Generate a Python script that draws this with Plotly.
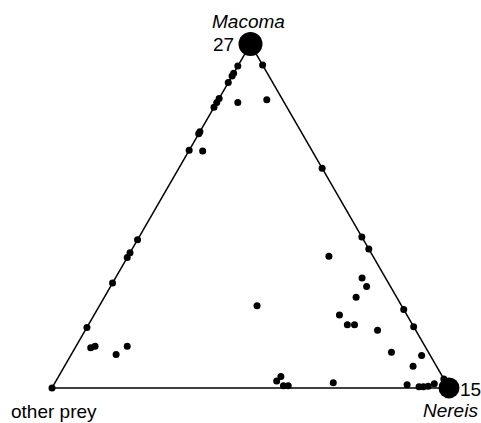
import plotly.graph_objects as go

# Proportions of prey types per individual (Macoma, other prey, Nereis)
macoma = [0.936, 0.915, 0.907, 0.888, 0.842, 0.830, 0.816, 0.745, 0.739, 0.691,
          0.431, 0.393, 0.379, 0.305, 0.176, 0.0,
          0.939, 0.639, 0.439, 0.404, 0.228, 0.178, 0.026,
          0.830, 0.838, 0.689, 0.117, 0.121, 0.097, 0.121, 0.239, 0.383, 0.320,
          0.295, 0.264, 0.212, 0.184, 0.184, 0.168, 0.104, 0.094, 0.063, 0.015,
          0.020, 0.033, 0.006, 0.006, 0.009, 0.003, 0.003, 0.005, 0.012]
other = [0.064, 0.085, 0.093, 0.112, 0.158, 0.170, 0.184, 0.255, 0.261, 0.309,
         0.569, 0.607, 0.621, 0.695, 0.824, 1.0,
         0.0, 0.0, 0.0, 0.0, 0.0, 0.0, 0.0,
         0.117, 0.040, 0.276, 0.844, 0.831, 0.790, 0.750, 0.364, 0.111, 0.059,
         0.060, 0.102, 0.170, 0.164, 0.146, 0.096, 0.093, 0.022, 0.059, 0.284,
         0.424, 0.407, 0.414, 0.402, 0.101, 0.074, 0.063, 0.050, 0.031]
nereis = [0.0, 0.0, 0.0, 0.0, 0.0, 0.0, 0.0, 0.0, 0.0, 0.0,
          0.0, 0.0, 0.0, 0.0, 0.0, 0.0,
          0.061, 0.361, 0.561, 0.596, 0.772, 0.822, 0.974,
          0.053, 0.122, 0.035, 0.039, 0.048, 0.113, 0.129, 0.397, 0.506, 0.621,
          0.645, 0.634, 0.618, 0.652, 0.670, 0.736, 0.803, 0.884, 0.878, 0.701,
          0.556, 0.560, 0.580, 0.592, 0.890, 0.923, 0.934, 0.945, 0.957]

# Pure-diet individuals at the vertices
vertex_a = [1.0, 0.0]
vertex_b = [0.0, 0.0]
vertex_c = [0.0, 1.0]
vertex_counts = ["27", "15"]
vertex_sizes = [24, 21]

fig = go.Figure()
fig.add_trace(go.Scatterternary(
    a=macoma, b=other, c=nereis, mode="markers",
    marker=dict(color="black", size=7, opacity=1, line=dict(width=0)),
    cliponaxis=False, showlegend=False, hoverinfo="skip"))
fig.add_trace(go.Scatterternary(
    a=vertex_a, b=vertex_b, c=vertex_c, mode="markers",
    marker=dict(color="black", size=vertex_sizes, opacity=1, line=dict(width=0)),
    cliponaxis=False, showlegend=False, hoverinfo="skip"))

axis_style = dict(showline=True, linecolor="black", linewidth=1.5,
                  showgrid=False, showticklabels=False, ticks="", title=dict(text=""))

font = dict(family="Liberation Sans, Arial, sans-serif", size=19, color="black")

fig.update_layout(
    width=481, height=423,
    margin=dict(l=52, r=32, t=44, b=35),
    paper_bgcolor="white", plot_bgcolor="white",
    font=font,
    ternary=dict(sum=1, bgcolor="white",
                 aaxis=axis_style, baxis=axis_style, caxis=axis_style),
    annotations=[
        dict(text="<i>Macoma</i>", x=0.496, y=1.064, xref="paper", yref="paper",
             xanchor="center", yanchor="middle", showarrow=False, font=font),
        dict(text=vertex_counts[0], x=0.463, y=1.0, xref="paper", yref="paper",
             xanchor="right", yanchor="middle", showarrow=False, font=font),
        dict(text="other prey", x=0.004, y=-0.067, xref="paper", yref="paper",
             xanchor="center", yanchor="middle", showarrow=False, font=font),
        dict(text="<i>Nereis</i>", x=1.005, y=-0.064, xref="paper", yref="paper",
             xanchor="center", yanchor="middle", showarrow=False, font=font),
        dict(text=vertex_counts[1], x=1.022, y=-0.003, xref="paper", yref="paper",
             xanchor="left", yanchor="middle", showarrow=False, font=font),
    ],
)

# remove the page's default body margin so the 481x423 figure fills the window
fig.write_html("out.html",
               config={"displayModeBar": False},
               post_script="document.body.style.margin='0';document.body.style.overflow='hidden';")
